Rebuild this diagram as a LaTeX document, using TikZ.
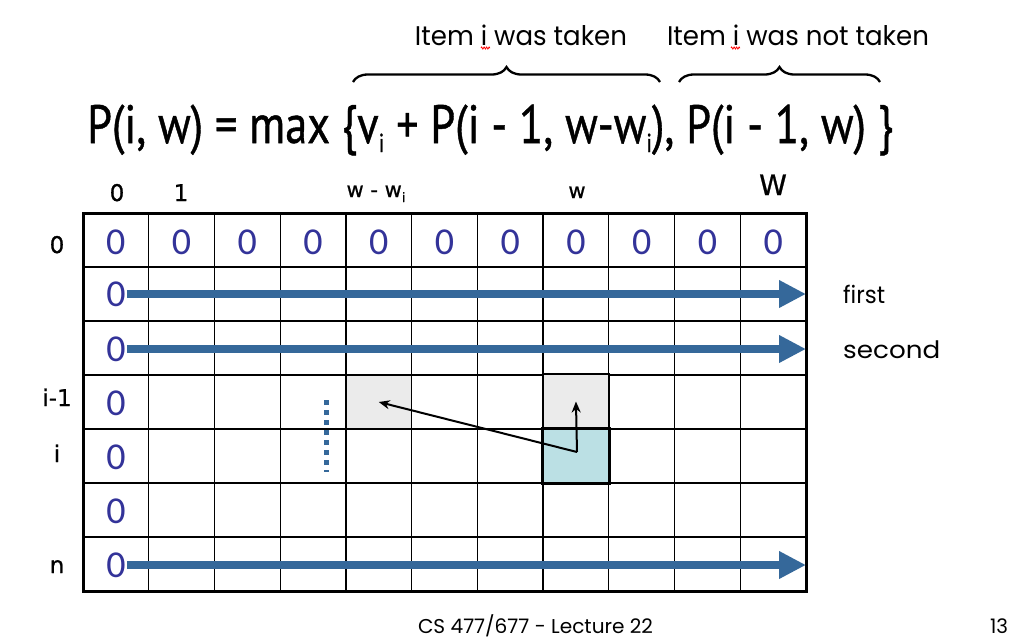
\documentclass[tikz,border=0pt]{standalone}
\usepackage{fontspec}
\setmainfont{Poppins}
\newfontfamily\zerofont{Carlito}
\newfontfamily\labfont[FakeBold=0.8]{DejaVu Sans}
\newfontfamily\formfont[FakeBold=0.9]{PT Sans}
\usetikzlibrary{arrows.meta,decorations.pathreplacing,decorations.pathmorphing}
\definecolor{zblue}{HTML}{333399}
\definecolor{abl}{HTML}{35689A}
\definecolor{gcell}{HTML}{EBEBEB}
\definecolor{ccell}{HTML}{BBE0E4}
\newcommand{\fsub}{\raisebox{-9pt}{\fontsize{26}{26}\selectfont i}}
\newcommand{\lsub}{\raisebox{-5pt}{\fontsize{13}{13}\selectfont i}}
\begin{document}
\begin{tikzpicture}[x=1pt,y=-1pt,
  zero/.style={font=\zerofont\fontsize{38}{40}\selectfont, text=zblue, inner sep=1pt},
  lab/.style={font=\labfont\fontsize{23}{25}\selectfont, inner sep=0pt, anchor=base},
  gridline/.style={line width=1.2pt, black},
  hl/.style={draw=black, minimum width=65.7pt, minimum height=54pt, inner sep=0pt},
  bluearrow/.style={draw=abl, line width=8pt, -{Triangle[length=27pt,width=26pt]}},
  blackarrow/.style={draw=black, line width=2pt, -{Stealth[length=11pt,width=9pt]}},
  brc/.style={decorate, decoration={brace, amplitude=15pt}, line width=2.3pt},
  txt/.style={inner sep=0pt, anchor=base}
]
\useasboundingbox (0,0) rectangle (1022,641);
\def\cw{65.727}
% highlighted cells
\node[hl, fill=gcell, line width=1.5pt] (g1) at (83+4.5*\cw, 402) {};
\node[hl, fill=ccell, line width=2pt] (c1) at (83+7.5*\cw, 456) {};
% grid
\foreach \k in {1,...,10} \draw[gridline] (83+\k*\cw,213) -- (83+\k*\cw,591);
\foreach \r in {1,...,6} \draw[gridline] (83,213+\r*54) -- (806,213+\r*54);
\node[hl, fill=gcell, line width=1.5pt, minimum height=55pt] (g2) at (83+7.5*\cw, 401.5) {};
\draw[line width=2pt] (c1.south west) rectangle (c1.north east);
\draw[line width=3pt] (83,213) rectangle (806,591);
% zeros
\foreach \k in {0,...,10} \node[zero] (z0-\k) at (83+\k*\cw+0.5*\cw, 242.5) {0};
\foreach \r/\yy in {1/294,2/349,3/403,4/457.5,5/511,6/565} \node[zero] (z\r) at (116, \yy) {0};
% blue arrows
\coordinate (e1) at (806,294);
\coordinate (e2) at (806,349);
\coordinate (e6) at (806,565);
\draw[bluearrow] (z1.east) -- (e1);
\draw[bluearrow] (z2.east) -- (e2);
\draw[bluearrow] (z6.east) -- (e6);
% dotted line
\coordinate (d1) at (326,400);
\coordinate (d2) at (326,472);
\draw[abl, line width=5pt, dash pattern=on 5pt off 5pt] (d1) -- (d2);
% black arrows
\coordinate (s) at (577,452);
\draw[blackarrow] (s) -- (g1.center);
\draw[blackarrow] (s) -- (g2.center);
% column labels
\node[lab] (cl0) at (117,201) {0};
\node[lab] (cl1) at (181,201) {1};
\node[lab, font=\labfont\fontsize{21}{23}\selectfont] (clw) at (376,197) {w - w\lsub};
\node[lab, font=\labfont\fontsize{21}{23}\selectfont] (clww) at (577,198) {w};
\node[lab, font=\labfont\fontsize{28}{30}\selectfont] (clW) at (773,195) {W};
% row labels
\node[lab] (rl0) at (57,253) {0};
\node[lab] (rl3) at (57,406) {i-1};
\node[lab] (rl4) at (57,462) {i};
\node[lab] (rl6) at (57,573) {n};
% right labels
\node[txt, anchor=base west] (first) at (843,303) {\resizebox{42pt}{\height}{\fontsize{24}{26}\selectfont first}};
\node[txt, anchor=base west] (second) at (843,358) {\resizebox{97pt}{\height}{\fontsize{24}{26}\selectfont second}};
% formula
\node[txt, anchor=base west] (form) at (87,143) {\resizebox{806pt}{\height}{\formfont\fontsize{54}{60}\selectfont P(i, w) = max \{v\fsub{} + P(i - 1, w-w\fsub), P(i - 1, w) \}}};
% braces
\draw[brc] (353,82) -- (660,82);
\draw[brc] (679,82) -- (880,82);
\node[txt] (t1) at (521,45) {\resizebox{212pt}{\height}{\fontsize{27}{30}\selectfont Item i was taken}};
\node[txt] (t2) at (798,45) {\resizebox{262pt}{\height}{\fontsize{27}{30}\selectfont Item i was not taken}};
\draw[red, line width=0.8pt, decorate, decoration={zigzag, amplitude=1pt, segment length=2.5pt}] (481,48) -- (490,48);
\draw[red, line width=0.8pt, decorate, decoration={zigzag, amplitude=1pt, segment length=2.5pt}] (731,48) -- (740,48);
% footer
\node[txt] (foot) at (535.5,633) {\resizebox{235pt}{\height}{\fontsize{20}{22}\selectfont CS 477/677 - Lecture 22}};
\node[txt] (pg) at (999,633) {\resizebox{18pt}{\height}{\fontsize{20}{22}\selectfont 13}};
\end{tikzpicture}
\end{document}
